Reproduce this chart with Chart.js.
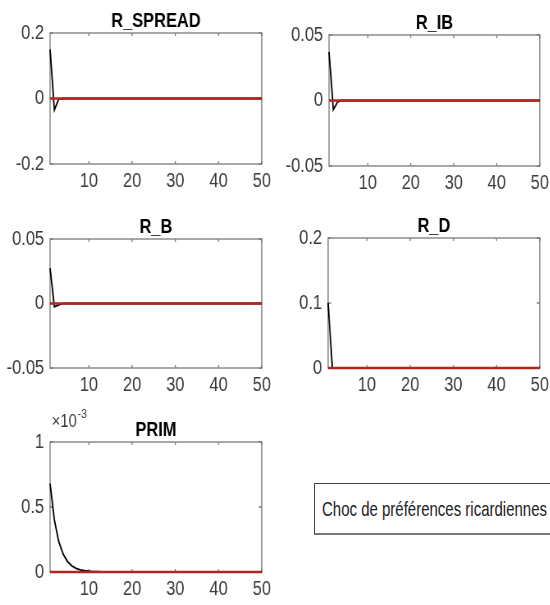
<!DOCTYPE html>
<html>
<head>
<meta charset="utf-8">
<script src="https://cdn.jsdelivr.net/npm/chart.js@4.4.0/dist/chart.umd.min.js"></script>
<style>
  html, body { margin: 0; padding: 0; background: #fff; overflow: hidden; width: 550px; height: 605px; position: relative; }
  canvas { position: absolute; }
  #note { position: absolute; left: 314px; top: 483px; width: 250px; height: 49px; border: 1px solid #444; border-bottom: 2px solid #777;
          box-sizing: content-box; overflow: hidden; }
  #note span { position: absolute; left: 7px; top: 0; line-height: 49px; white-space: nowrap; transform-origin: 0 50%;
               font-family: 'Liberation Sans', Arial, sans-serif; font-size: 21px; color: #222; }
</style>
</head>
<body>
<div id="note"><span>Choc de préférences ricardiennes</span></div>
<script>
// periods 1..50
const periods = Array.from({ length: 50 }, (_, i) => i + 1);
const xTickLabels = [10, 20, 30, 40, 50];

const rSpread = [0.15, -0.035, -0.002, 0, 0, 0, 0, 0, 0, 0,
  0, 0, 0, 0, 0, 0, 0, 0, 0, 0,  0, 0, 0, 0, 0, 0, 0, 0, 0, 0,
  0, 0, 0, 0, 0, 0, 0, 0, 0, 0,  0, 0, 0, 0, 0, 0, 0, 0, 0, 0];
const rIb = [0.037, -0.007, -0.001, 0, 0, 0, 0, 0, 0, 0,
  0, 0, 0, 0, 0, 0, 0, 0, 0, 0,  0, 0, 0, 0, 0, 0, 0, 0, 0, 0,
  0, 0, 0, 0, 0, 0, 0, 0, 0, 0,  0, 0, 0, 0, 0, 0, 0, 0, 0, 0];
const rB = [0.0275, -0.0025, -0.001, 0, 0, 0, 0, 0, 0, 0,
  0, 0, 0, 0, 0, 0, 0, 0, 0, 0,  0, 0, 0, 0, 0, 0, 0, 0, 0, 0,
  0, 0, 0, 0, 0, 0, 0, 0, 0, 0,  0, 0, 0, 0, 0, 0, 0, 0, 0, 0];
const rD = [0.1, 0, 0, 0, 0, 0, 0, 0, 0, 0,
  0, 0, 0, 0, 0, 0, 0, 0, 0, 0,  0, 0, 0, 0, 0, 0, 0, 0, 0, 0,
  0, 0, 0, 0, 0, 0, 0, 0, 0, 0,  0, 0, 0, 0, 0, 0, 0, 0, 0, 0];
const prim = [0.00068, 0.0004, 0.000235, 0.00014, 0.000082, 0.000048, 0.000028, 0.000017, 0.00001, 0.000006,
  0.0000035, 0.000002, 0.0000012, 0.0000007, 0.0000004, 0, 0, 0, 0, 0,  0, 0, 0, 0, 0, 0, 0, 0, 0, 0,
  0, 0, 0, 0, 0, 0, 0, 0, 0, 0,  0, 0, 0, 0, 0, 0, 0, 0, 0, 0];
const steady = [0, 0, 0, 0, 0, 0, 0, 0, 0, 0,  0, 0, 0, 0, 0, 0, 0, 0, 0, 0,
  0, 0, 0, 0, 0, 0, 0, 0, 0, 0,  0, 0, 0, 0, 0, 0, 0, 0, 0, 0,  0, 0, 0, 0, 0, 0, 0, 0, 0, 0];

const FONT = "'Liberation Sans', Arial, sans-serif";
const boxColor = '#7a7a7a', tickColor = '#3a3a3a', red = '#b5241f';
// the source figure is squeezed sideways; draw wider and shrink the canvas with css
const SX = 0.82;
const Y_W = 50, X_H = 36, TITLE_H = 33, PAD_R = 13;

// panel layout: plot area rect in page pixels
const panels = [
  { title: 'R_SPREAD', data: rSpread, min: -0.2, max: 0.2, step: 0.2, area: [50, 33, 262, 164] },
  { title: 'R_IB', data: rIb, min: -0.05, max: 0.05, step: 0.05, area: [329, 35, 540, 166] },
  { title: 'R_B', data: rB, min: -0.05, max: 0.05, step: 0.05, area: [50, 239, 262, 368] },
  { title: 'R_D', data: rD, min: 0, max: 0.2, step: 0.1, area: [328, 238, 540, 368] },
  { title: 'PRIM', data: prim, min: 0, max: 0.001, step: 0.0005, area: [50, 442, 262, 572], exp: true }
];

const boxPlugin = {
  id: 'matlabBox',
  beforeDatasetsDraw(chart) {
    const { ctx, chartArea: a, scales: { x, y } } = chart;
    ctx.save();
    ctx.strokeStyle = boxColor; ctx.lineWidth = 1.3;
    ctx.strokeRect(a.left, a.top, a.right - a.left, a.bottom - a.top);
    ctx.beginPath();
    x.ticks.forEach((t, i) => {
      if (!xTickLabels.includes(periods[i])) return;
      const px = x.getPixelForTick(i);
      ctx.moveTo(px, a.bottom); ctx.lineTo(px, a.bottom - 3);
      ctx.moveTo(px, a.top); ctx.lineTo(px, a.top + 3);
    });
    y.ticks.forEach(t => {
      const py = y.getPixelForValue(t.value);
      ctx.moveTo(a.left, py); ctx.lineTo(a.left + 3 / SX, py);
      ctx.moveTo(a.right, py); ctx.lineTo(a.right - 3 / SX, py);
    });
    ctx.stroke();
    ctx.restore();
  },
  afterDraw(chart) {
    if (!chart.options.plugins.matlabBox.exp) return;
    const { ctx, chartArea: a } = chart;
    ctx.save();
    ctx.fillStyle = tickColor; ctx.textBaseline = 'alphabetic'; ctx.textAlign = 'left';
    ctx.font = '18px ' + FONT;
    ctx.fillText('\u00d710', a.left + 2, a.top - 15);
    const w = ctx.measureText('\u00d710').width;
    ctx.font = '13px ' + FONT;
    ctx.fillText('-3', a.left + 3 + w, a.top - 24);
    ctx.restore();
  }
};

panels.forEach(p => {
  const [l, t, r, b] = p.area;
  const cv = document.createElement('canvas');
  const left = l - Y_W, top = t - TITLE_H;
  const w = r + PAD_R - left, h = (b - t) + TITLE_H + X_H;
  cv.width = Math.round(w / SX); cv.height = h;
  cv.style.left = left + 'px'; cv.style.top = top + 'px';
  cv.style.width = w + 'px'; cv.style.height = h + 'px';
  document.body.appendChild(cv);
  new Chart(cv.getContext('2d'), {
    type: 'line',
    data: {
      labels: periods,
      datasets: [
        { data: steady, borderColor: red, borderWidth: 2.5, pointRadius: 0, tension: 0, clip: 4 },
        { data: p.data, borderColor: '#000', borderWidth: 1.8, pointRadius: 0, tension: 0, clip: 4 }
      ]
    },
    options: {
      responsive: false, animation: false, devicePixelRatio: 1,
      layout: { padding: { left: 0, right: PAD_R / SX, top: 0, bottom: 0 } },
      plugins: {
        legend: { display: false }, tooltip: { enabled: false },
        title: { display: true, text: p.title, fullSize: false, color: '#000',
                 font: { family: FONT, size: 20, weight: 'bold', lineHeight: 1.15 }, padding: { top: 10, bottom: 0 } },
        matlabBox: { exp: !!p.exp }
      },
      scales: {
        x: {
          grid: { display: false, drawTicks: false }, border: { display: false },
          ticks: { autoSkip: false, maxRotation: 0, padding: 5, color: tickColor, font: { family: FONT, size: 20 },
                   callback: (v, i) => xTickLabels.includes(periods[i]) ? String(periods[i]) : '' },
          afterFit: s => { s.height = X_H; }
        },
        y: {
          min: p.min, max: p.max,
          grid: { display: false, drawTicks: false }, border: { display: false },
          ticks: { stepSize: p.step, padding: 6 / SX, color: tickColor, font: { family: FONT, size: 20 },
                   callback: v => p.exp ? String(Math.round(v * 10000) / 10) : String(Math.round(v * 1000) / 1000) },
          afterFit: s => { s.width = Y_W / SX; }
        }
      }
    },
    plugins: [boxPlugin]
  });
});

// fit the note text to the width it has in the figure
const span = document.querySelector('#note span');
span.style.transform = 'scaleX(' + (225 / span.getBoundingClientRect().width) + ')';
</script>
</body>
</html>
